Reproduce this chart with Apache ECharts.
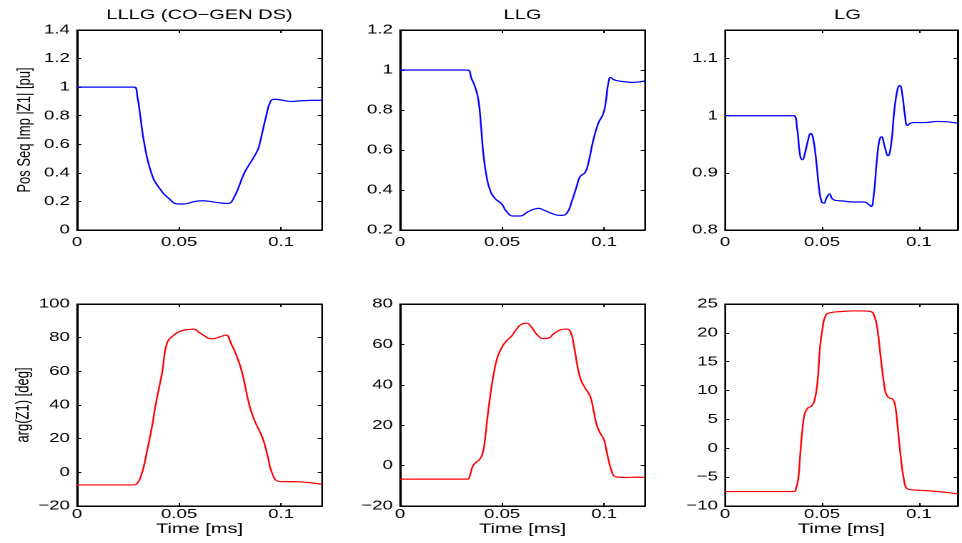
<!DOCTYPE html>
<html>
<head>
<meta charset="utf-8">
<script src="https://cdn.jsdelivr.net/npm/echarts@6/dist/echarts.min.js"></script>
<style>
  html, body { margin: 0; padding: 0; background: #fff; overflow: hidden; }
  #wrap { width: 962px; height: 543px; overflow: hidden; }
  /* the figure is laid out narrow and stretched horizontally */
  #chart { width: 673px; height: 543px; transform: scaleX(1.429420); transform-origin: 0 0; }
</style>
</head>
<body>
<div id="wrap"><div id="chart"></div></div>
<script>
// ---- positive-sequence impedance magnitude |Z1| [pu] ----
const tMagLLLG = [0, 0.0281, 0.0296, 0.0309, 0.0329, 0.0364, 0.0400, 0.0458, 0.0491, 0.0520, 0.0573, 0.0614, 0.0660, 0.0711, 0.0738, 0.0770, 0.0820, 0.0862, 0.0885, 0.0894, 0.0927, 0.0948, 0.0968, 0.1000, 0.1050, 0.1100, 0.1200];
const magLLLG  = [1.0, 1.0, 0.93, 0.81, 0.61, 0.40, 0.30, 0.21, 0.183, 0.182, 0.198, 0.205, 0.198, 0.188, 0.186, 0.23, 0.40, 0.50, 0.56, 0.60, 0.80, 0.90, 0.915, 0.91, 0.90, 0.905, 0.908];

const tMagLLG = [0, 0.0327, 0.0351, 0.0367, 0.0384, 0.0397, 0.0408, 0.0424, 0.0441, 0.0465, 0.0498, 0.0522, 0.0555, 0.0588, 0.0620, 0.0653, 0.0678, 0.0710, 0.0751, 0.0784, 0.0816, 0.0841, 0.0865, 0.0882, 0.0906, 0.0922, 0.0947, 0.0971, 0.0996, 0.1009, 0.1020, 0.1032, 0.1045, 0.1061, 0.1094, 0.1135, 0.1200];
const magLLG  = [1.0, 1.0, 0.955, 0.917, 0.85, 0.717, 0.583, 0.467, 0.40, 0.358, 0.33, 0.292, 0.27, 0.27, 0.287, 0.303, 0.308, 0.297, 0.28, 0.273, 0.283, 0.342, 0.417, 0.467, 0.487, 0.533, 0.65, 0.733, 0.783, 0.85, 0.933, 0.963, 0.953, 0.947, 0.942, 0.938, 0.945];

const tMagLG = [0, 0.0354, 0.0371, 0.0387, 0.0399, 0.0412, 0.0428, 0.0442, 0.0453, 0.0470, 0.0486, 0.0499, 0.0511, 0.0522, 0.0539, 0.0552, 0.0568, 0.0601, 0.0667, 0.0717, 0.0741, 0.0753, 0.0766, 0.0783, 0.0796, 0.0807, 0.0824, 0.0840, 0.0857, 0.0873, 0.0890, 0.0901, 0.0914, 0.0927, 0.0941, 0.0956, 0.0980, 0.1030, 0.1096, 0.1200];
const magLG  = [1.0, 1.0, 0.98, 0.931, 0.923, 0.934, 0.957, 0.969, 0.963, 0.922, 0.87, 0.849, 0.847, 0.855, 0.863, 0.855, 0.852, 0.851, 0.849, 0.849, 0.845, 0.841, 0.858, 0.922, 0.957, 0.963, 0.945, 0.93, 0.951, 1.009, 1.047, 1.053, 1.038, 1.003, 0.983, 0.987, 0.988, 0.988, 0.99, 0.987];

// ---- impedance angle arg(Z1) [deg] ----
const tArgLLLG = [0, 0.0277, 0.0293, 0.0309, 0.0326, 0.0342, 0.0367, 0.0385, 0.0418, 0.0441, 0.0474, 0.0500, 0.0535, 0.0570, 0.0606, 0.0663, 0.0700, 0.0729, 0.0754, 0.0779, 0.0807, 0.0844, 0.0869, 0.0910, 0.0935, 0.0954, 0.0984, 0.1001, 0.1050, 0.1100, 0.1165, 0.1200];
const argLLLG  = [-7.5, -7.5, -6.8, -3.5, 3, 12, 27, 40, 60, 77, 81.5, 83.5, 84.7, 85, 82.5, 79.3, 80.5, 81.5, 76.6, 70, 60, 40, 31, 20, 9, 0, -5.3, -5.5, -5.5, -5.7, -6.5, -7.1];

const tArgLLG = [0, 0.0331, 0.0343, 0.0356, 0.0372, 0.0389, 0.0405, 0.0416, 0.0429, 0.0444, 0.0460, 0.0477, 0.0498, 0.0522, 0.0547, 0.0571, 0.0596, 0.0620, 0.0645, 0.0669, 0.0702, 0.0727, 0.0751, 0.0784, 0.0816, 0.0836, 0.0852, 0.0869, 0.0885, 0.0906, 0.0931, 0.0947, 0.0963, 0.0980, 0.0999, 0.1012, 0.1025, 0.1037, 0.1048, 0.1069, 0.1110, 0.1159, 0.1200];
const argLLG  = [-6.7, -6.7, -4.6, -0.4, 1.6, 2.9, 6.2, 12.8, 24.4, 36, 46, 53.5, 58.4, 61.8, 64.2, 67.6, 70, 70.5, 68.4, 65.1, 62.9, 63.1, 65.1, 67.1, 67.6, 65.9, 59.3, 49.3, 42.7, 38.5, 34.4, 27.8, 20.3, 16.2, 12.8, 7, 1.2, -2.9, -5.1, -5.7, -5.9, -5.7, -5.9];

const tArgLG = [0, 0.0354, 0.0367, 0.0379, 0.0387, 0.0399, 0.0412, 0.0428, 0.0445, 0.0461, 0.0478, 0.0489, 0.0502, 0.0519, 0.0544, 0.0601, 0.0667, 0.0717, 0.0750, 0.0769, 0.0786, 0.0802, 0.0819, 0.0832, 0.0849, 0.0865, 0.0878, 0.0890, 0.0906, 0.0923, 0.0939, 0.0964, 0.1013, 0.1063, 0.1128, 0.1200];
const argLG  = [-7.5, -7.5, -6.9, -4.9, -1.4, 3.2, 6.1, 7, 7.3, 8.2, 11.9, 17.2, 20.6, 23, 23.5, 23.7, 23.8, 23.8, 23.7, 23, 20.6, 16, 11.4, 9.3, 8.7, 8.5, 7.3, 3.8, -1.4, -5.5, -7, -7.2, -7.3, -7.4, -7.6, -7.9];

// ---- panel titles, axis names and axis ranges ----
const faultTitles = ['LLLG (CO\u2212GEN DS)', 'LLG', 'LG'];
const magAxisName = 'Pos Seq Imp |Z1| [pu]';
const argAxisName = 'arg(Z1) [deg]';
const timeAxisName = 'Time [ms]';
const timeRange = { min: 0, max: 0.12, step: 0.05 };
const magRanges = [{ min: 0, max: 1.4, step: 0.2 }, { min: 0.2, max: 1.2, step: 0.2 }, { min: 0.8, max: 1.15, step: 0.1 }];
const argRanges = [{ min: -20, max: 100, step: 20 }, { min: -20, max: 80, step: 20 }, { min: -10, max: 25, step: 5 }];

// ---- layout (screen pixels, converted to the narrow drawing space) ----
const SX = 962 / 673;
const FONT = 'Liberation Sans, Arial, Helvetica, sans-serif';
const colLeft = [77, 400, 725];
const colWidth = 245;
const rows = [{ top: 30, height: 200 }, { top: 304, height: 202 }];

function tickFormatter(step) {
  return function (v) {
    const k = v / step;
    if (Math.abs(k - Math.round(k)) > 1e-6) return '';
    return String(+v.toFixed(4)).replace('-', '\u2212');
  };
}

const grids = [], xAxes = [], yAxes = [], series = [], titles = [];
const panels = [
  { row: 0, col: 0, t: tMagLLLG, v: magLLLG, r: magRanges[0], color: '#0000ff' },
  { row: 0, col: 1, t: tMagLLG,  v: magLLG,  r: magRanges[1], color: '#0000ff' },
  { row: 0, col: 2, t: tMagLG,   v: magLG,   r: magRanges[2], color: '#0000ff' },
  { row: 1, col: 0, t: tArgLLLG, v: argLLLG, r: argRanges[0], color: '#ff0000' },
  { row: 1, col: 1, t: tArgLLG,  v: argLLG,  r: argRanges[1], color: '#ff0000' },
  { row: 1, col: 2, t: tArgLG,   v: argLG,   r: argRanges[2], color: '#ff0000' }
];

const tick = { show: true, inside: true, length: 3, lineStyle: { color: '#000', width: 1 } };
const line = { show: true, onZero: false, lineStyle: { color: '#000', width: 1 } };

panels.forEach(function (p, gi) {
  const rw = rows[p.row];
  grids.push({
    left: colLeft[p.col] / SX, width: colWidth / SX, top: rw.top, height: rw.height,
    show: true, borderColor: '#000', borderWidth: 1, backgroundColor: '#fff', containLabel: false
  });
  const xBase = { type: 'value', gridIndex: gi, min: timeRange.min, max: timeRange.max, interval: timeRange.step,
                  axisLine: line, axisTick: tick, splitLine: { show: false } };
  xAxes.push(Object.assign({}, xBase, {
    position: 'bottom',
    axisLabel: { show: true, color: '#000', fontFamily: FONT, fontSize: 13, margin: p.row === 0 ? 6 : 2,
                 formatter: tickFormatter(timeRange.step) },
    name: p.row === 1 ? timeAxisName : '', nameLocation: 'middle', nameGap: 14,
    nameTextStyle: { color: '#000', fontFamily: FONT, fontSize: 14 }
  }));
  xAxes.push(Object.assign({}, xBase, { position: 'top', axisLabel: { show: false } }));

  const yBase = { type: 'value', gridIndex: gi, min: p.r.min, max: p.r.max, interval: p.r.step,
                  axisLine: line, axisTick: tick, splitLine: { show: false } };
  yAxes.push(Object.assign({}, yBase, {
    position: 'left',
    axisLabel: { show: true, color: '#000', fontFamily: FONT, fontSize: 13, margin: 5,
                 formatter: tickFormatter(p.r.step) },
    name: p.col === 0 ? (p.row === 0 ? magAxisName : argAxisName) : '',
    nameLocation: 'middle', nameGap: 30, nameRotate: 90,
    nameTextStyle: { color: '#000', fontFamily: FONT, fontSize: 13 }
  }));
  yAxes.push(Object.assign({}, yBase, { position: 'right', axisLabel: { show: false } }));

  series.push({
    type: 'line', xAxisIndex: 2 * gi, yAxisIndex: 2 * gi,
    data: p.t.map(function (t, i) { return [t, p.v[i]]; }),
    showSymbol: false, symbol: 'none', smooth: 0.5,
    lineStyle: { color: p.color, width: 1.2 }, clip: true, animation: false
  });
});

faultTitles.forEach(function (txt, c) {
  titles.push({
    text: txt, left: (colLeft[c] + colWidth / 2) / SX, top: 8, textAlign: 'center', padding: 0,
    textStyle: { color: '#000', fontFamily: FONT, fontSize: 14, fontWeight: 'normal' }
  });
});

const chart = echarts.init(document.getElementById('chart'), null, { renderer: 'canvas', devicePixelRatio: 2 });
chart.setOption({
  animation: false,
  backgroundColor: '#fff',
  title: titles,
  grid: grids,
  xAxis: xAxes,
  yAxis: yAxes,
  series: series
});
</script>
</body>
</html>
